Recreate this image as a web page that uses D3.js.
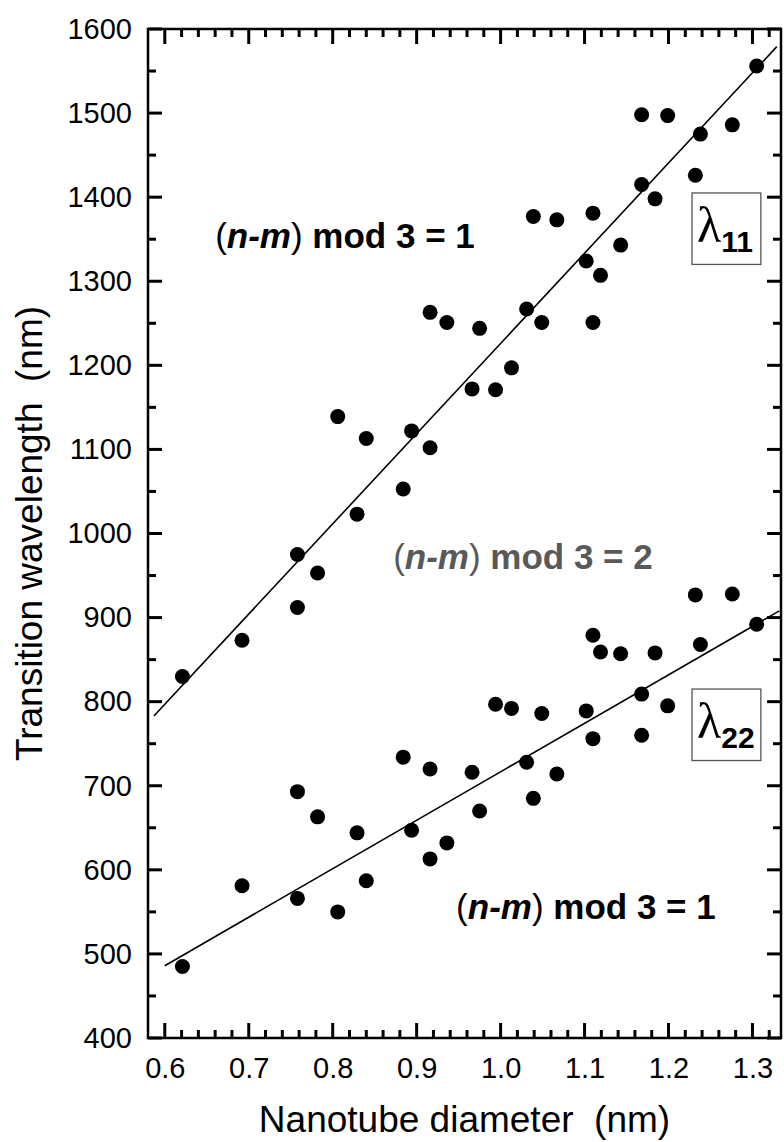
<!DOCTYPE html>
<html>
<head>
<meta charset="utf-8">
<script src="https://cdn.jsdelivr.net/npm/d3@7"></script>
<style>
  body { margin: 0; background: #fff; }
  svg { display: block; }
</style>
</head>
<body>
<svg id="chart"></svg>
<script>
// Tube diameters (nm), shared by both transitions
const diameters = [0.621, 0.692, 0.758, 0.758, 0.782, 0.806, 0.829, 0.840,
  0.884, 0.894, 0.916, 0.916, 0.936, 0.966, 0.975, 0.994, 1.013, 1.031,
  1.039, 1.049, 1.067, 1.102, 1.110, 1.110, 1.119, 1.143, 1.168, 1.168,
  1.184, 1.199, 1.232, 1.238, 1.276, 1.305];

// First transition wavelength (nm)
const lambda11 = [830, 873, 912, 975, 953, 1139, 1023, 1113, 1053, 1122,
  1102, 1263, 1251, 1172, 1244, 1171, 1197, 1267, 1377, 1251, 1373, 1324,
  1381, 1251, 1307, 1343, 1498, 1415, 1398, 1497, 1426, 1475, 1486, 1556];

// Second transition wavelength (nm)
const lambda22 = [485, 581, 566, 693, 663, 550, 644, 587, 734, 647, 720,
  613, 632, 716, 670, 797, 792, 728, 685, 786, 714, 789, 879, 756, 859, 857,
  809, 760, 858, 795, 927, 868, 928, 892];

// Linear fits, as endpoints
const fit11D = [0.587, 1.329];
const fit11L = [783, 1579];
const fit22D = [0.600, 1.332];
const fit22L = [486, 908];

const xTicks = [0.6, 0.7, 0.8, 0.9, 1.0, 1.1, 1.2, 1.3];
const yTicks = [400, 500, 600, 700, 800, 900, 1000, 1100, 1200, 1300, 1400, 1500, 1600];

const width = 784;
const height = 1142;
const margin = {top: 29, right: 3, bottom: 104, left: 148};
const font = '"Liberation Sans", Arial, Helvetica, sans-serif';

const x = d3.scaleLinear().domain([0.58, 1.334])
    .range([margin.left, width - margin.right]);
const y = d3.scaleLinear().domain([400, 1600])
    .range([height - margin.bottom, margin.top]);

const svg = d3.select('#chart')
    .attr('width', width)
    .attr('height', height)
    .attr('viewBox', [0, 0, width, height])
    .style('font-family', font);

const x0 = x.range()[0], x1 = x.range()[1];
const y0 = y.range()[0], y1 = y.range()[1];

// minor tick positions
const xMinor = d3.range(0.60, 1.34, 0.02).map((v) => +v.toFixed(2))
    .filter((v) => !xTicks.some((t) => Math.abs(t - v) < 1e-6));
const yMinor = d3.range(450, 1600, 100);

// tick labels from d3 axes
function labels(axisFn, pos, vals, fmt, pad) {
  const g = svg.append('g').attr('transform', pos)
      .call(axisFn.tickValues(vals).tickFormat(fmt).tickSize(0).tickPadding(pad));
  g.select('.domain').remove();
  g.selectAll('line').remove();
  g.selectAll('text').attr('font-size', 29).attr('fill', '#000')
      .attr('font-family', font);
}
labels(d3.axisBottom(x), `translate(0,${y0})`, xTicks, d3.format('.1f'), 19);
labels(d3.axisLeft(y), `translate(${x0},0)`, yTicks, d3.format('d'), 16);

// inward ticks on all four sides, as small filled rects
const tw = 3;
const tickG = svg.append('g').attr('fill', '#000');
function xTickMarks(vals, len) {
  tickG.append('g').selectAll('rect').data(vals).join('rect')
      .attr('x', (d) => x(d) - tw / 2).attr('width', tw)
      .attr('y', y0 - len).attr('height', len);
  tickG.append('g').selectAll('rect').data(vals).join('rect')
      .attr('x', (d) => x(d) - tw / 2).attr('width', tw)
      .attr('y', y1).attr('height', len);
}
function yTickMarks(vals, len) {
  tickG.append('g').selectAll('rect').data(vals).join('rect')
      .attr('y', (d) => y(d) - tw / 2).attr('height', tw)
      .attr('x', x0).attr('width', len);
  tickG.append('g').selectAll('rect').data(vals).join('rect')
      .attr('y', (d) => y(d) - tw / 2).attr('height', tw)
      .attr('x', x1 - len).attr('width', len);
}
xTickMarks(xTicks, 15);
xTickMarks(xMinor, 8);
yTickMarks(yTicks, 14);
yTickMarks(yMinor, 8);

// frame
svg.append('rect')
    .attr('x', x0).attr('y', y1)
    .attr('width', x1 - x0).attr('height', y0 - y1)
    .attr('fill', 'none').attr('stroke', '#000').attr('stroke-width', 2.5);

// fit lines
const line = d3.line().x((d) => x(d[0])).y((d) => y(d[1]));
svg.append('path')
    .datum(d3.zip(fit11D, fit11L))
    .attr('d', line).attr('fill', 'none')
    .attr('stroke', '#000').attr('stroke-width', 1.6);
svg.append('path')
    .datum(d3.zip(fit22D, fit22L))
    .attr('d', line).attr('fill', 'none')
    .attr('stroke', '#000').attr('stroke-width', 1.6);

// data points
svg.append('g').selectAll('circle')
    .data(d3.zip(diameters, lambda11).concat(d3.zip(diameters, lambda22)))
    .join('circle')
    .attr('cx', (d) => x(d[0]))
    .attr('cy', (d) => y(d[1]))
    .attr('r', 7.5)
    .attr('fill', '#000');

// (n-m) mod 3 labels
function modLabel(xv, yv, rest, color) {
  const t = svg.append('text')
      .attr('x', x(xv)).attr('y', y(yv))
      .attr('font-size', 35).attr('fill', color);
  t.append('tspan').attr('font-weight', 'normal').text('(');
  t.append('tspan').attr('font-weight', 'bold').attr('font-style', 'italic').text('n-m');
  t.append('tspan').attr('font-weight', 'normal').text(')');
  t.append('tspan').attr('font-weight', 'bold').text(rest);
}
modLabel(0.660, 1339, '\u00a0mod 3 = 1', '#000');
modLabel(0.872, 958, '\u00a0mod 3 = 2', '#595959');
modLabel(0.947, 542, '\u00a0mod 3 = 1', '#000');

// lambda boxes
function lambdaBox(xa, xb, ya, yb, sub) {
  const bx = x(xa), by = y(ya);
  const bw = x(xb) - bx, bh = y(yb) - by;
  svg.append('rect')
      .attr('x', bx).attr('y', by).attr('width', bw).attr('height', bh)
      .attr('fill', '#fff').attr('stroke', '#555').attr('stroke-width', 1.3);
  const t = svg.append('text')
      .attr('x', bx + 5).attr('y', by + 49);
  t.append('tspan')
      .attr('font-family', '"Liberation Serif", "Times New Roman", serif')
      .attr('font-size', 50).text('\u03bb');
  t.append('tspan')
      .attr('font-size', 30).attr('font-weight', 'bold')
      .attr('dy', 10).attr('dx', 0).text(sub);
}
lambdaBox(1.228, 1.310, 1405, 1320, '11');
lambdaBox(1.228, 1.310, 815, 730, '22');

// axis titles
svg.append('text')
    .attr('transform', `translate(42,${(y0 + y1) / 2}) rotate(-90)`)
    .attr('text-anchor', 'middle')
    .attr('font-size', 37)
    .text('Transition wavelength\u00a0\u00a0(nm)');

svg.append('text')
    .attr('x', (x0 + x1) / 2)
    .attr('y', 1132)
    .attr('text-anchor', 'middle')
    .attr('font-size', 37)
    .text('Nanotube diameter\u00a0\u00a0(nm)');
</script>
</body>
</html>
